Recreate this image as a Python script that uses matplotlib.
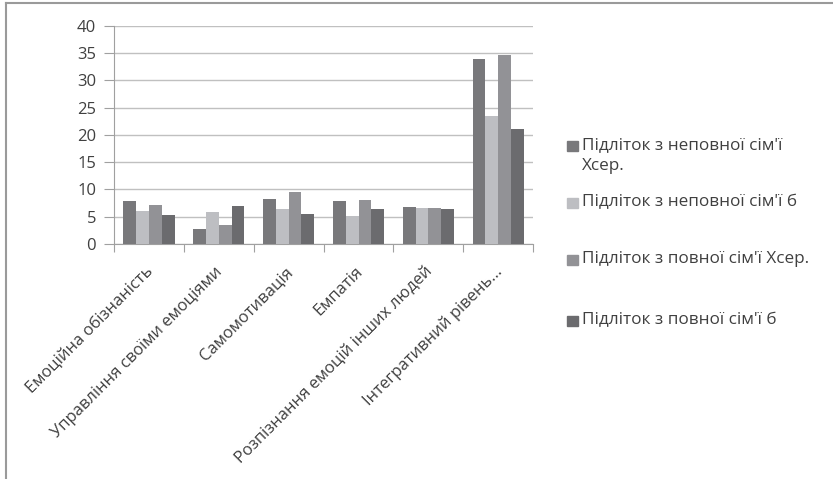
import numpy as np
import matplotlib
matplotlib.use("Agg")
import matplotlib.pyplot as plt
import matplotlib.transforms as mtransforms
from matplotlib.lines import Line2D
from matplotlib.patches import Rectangle

# Шкали емоційного інтелекту
categories = ['Емоційна обізнаність', 'Управління своїми емоціями', 'Самомотивація',
              'Емпатія', 'Розпізнання емоцій інших людей', 'Інтегративний рівень...']

# Середні та стандартні відхилення по групах
nepovna_xcep = [7.9, 2.75, 8.25, 7.9, 6.7, 33.9]
nepovna_sigma = [6.0, 5.85, 6.4, 5.1, 6.55, 23.5]
povna_xcep = [7.2, 3.4, 9.6, 8.1, 6.55, 34.6]
povna_sigma = [5.35, 6.9, 5.55, 6.4, 6.4, 21.05]

series_labels = ["Підліток з неповної сім'ї\nXcep.", "Підліток з неповної сім'ї б",
                 "Підліток з повної сім'ї Xcep.", "Підліток з повної сім'ї б"]
series = [nepovna_xcep, nepovna_sigma, povna_xcep, povna_sigma]
colors = ['#78787b', '#bdbec2', '#929296', '#6b6b6e']

plt.rcParams['font.family'] = ['Open Sans', 'DejaVu Sans']
txt_col = '#404040'

fig = plt.figure(figsize=(8.33, 4.79), dpi=100)
ax = fig.add_axes([0.137, 0.491, 0.503, 0.455])

x = np.arange(len(categories))
w = 0.183
for i, vals in enumerate(series):
    ax.bar(x + (i - 1.5) * w, vals, width=w, color=colors[i], zorder=3)

ax.set_xlim(-0.5, len(categories) - 0.5)
ax.set_ylim(0, 40)
ax.set_yticks(range(0, 41, 5))
ax.yaxis.grid(True, color='#c0c0c0', linewidth=1)
ax.set_axisbelow(True)

# поділки осі X на межах категорій, підписи по центрах
ax.set_xticks(np.arange(-0.5, len(categories)), minor=False)
ax.set_xticklabels([])
ax.set_xticks(x, minor=True)
ax.set_xticklabels(categories, minor=True, rotation=45, ha='right',
                   rotation_mode='anchor', fontsize=12, color=txt_col)
ax.tick_params(axis='x', which='major', length=6, color='#a0a0a0')
ax.tick_params(axis='x', which='minor', length=0, pad=10)
ax.tick_params(axis='y', length=7, color='#a0a0a0', labelsize=12, labelcolor=txt_col, pad=6)

# зсув підписів вліво-вниз (після tick_params, бо pad скидає transform)
shift = mtransforms.ScaledTranslation(-4 / 100, -6 / 100, fig.dpi_scale_trans)
for lbl in ax.get_xticklabels(minor=True):
    lbl.set_transform(lbl.get_transform() + shift)

for s in ['top', 'right']:
    ax.spines[s].set_visible(False)
for s in ['left', 'bottom']:
    ax.spines[s].set_color('#a0a0a0')

# легенда праворуч
legend_y = [0.695, 0.576, 0.457, 0.330]
for i, lab in enumerate(series_labels):
    fig.add_artist(Rectangle((0.681, legend_y[i] - 0.0105), 0.0125, 0.021,
                             transform=fig.transFigure, color=colors[i]))
    fig.text(0.699, legend_y[i] + 0.018, lab, fontsize=12.3, color=txt_col,
             va='top', ha='left', linespacing=1.4)

# рамка
fig.add_artist(Line2D([0.007, 0.007], [0, 0.994], color='#9a9a9a', linewidth=1.5,
                      transform=fig.transFigure))
fig.add_artist(Line2D([0.007, 1], [0.994, 0.994], color='#9a9a9a', linewidth=1.5,
                      transform=fig.transFigure))

fig.savefig('out.png', dpi=100)
